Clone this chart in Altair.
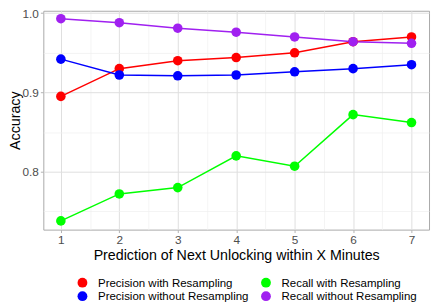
import altair as alt
import pandas as pd

minutes = [1, 2, 3, 4, 5, 6, 7]
series_names = [
    "Precision with Resampling",
    "Precision without Resampling",
    "Recall with Resampling",
    "Recall without Resampling",
]
precision_with = [0.895, 0.930, 0.940, 0.944, 0.950, 0.964, 0.970]
precision_without = [0.942, 0.922, 0.921, 0.922, 0.926, 0.930, 0.935]
recall_with = [0.738, 0.772, 0.780, 0.820, 0.807, 0.872, 0.862]
recall_without = [0.993, 0.988, 0.981, 0.976, 0.970, 0.964, 0.962]
series_colors = ["#FF0000", "#0000FF", "#00FF00", "#A020F0"]

rows = []
for name, vals in zip(series_names, [precision_with, precision_without, recall_with, recall_without]):
    for m, v in zip(minutes, vals):
        rows.append({"minutes": m, "accuracy": v, "series": name})
df = pd.DataFrame(rows)

y_ticks = [0.75, 0.8, 0.85, 0.9, 0.95, 1.0]
x_ticks = [1, 1.5, 2, 2.5, 3, 3.5, 4, 4.5, 5, 5.5, 6, 6.5, 7]

major_y = "round(datum.value*100) % 10 == 0"
major_x = "round(datum.value*10) % 10 == 0"

x_enc = alt.X(
    "minutes:Q",
    scale=alt.Scale(domain=[0.7, 7.3], nice=False, zero=False),
    axis=alt.Axis(
        values=x_ticks,
        labelExpr="round(datum.value*10) % 10 == 0 ? format(datum.value, 'd') : ''",
        title="Prediction of Next Unlocking within X Minutes",
        gridColor={"condition": {"test": major_x, "value": "#DEDEDE"}, "value": "#EFEFEF"},
        gridWidth={"condition": {"test": major_x, "value": 1}, "value": 0.7},
        tickOpacity={"condition": {"test": major_x, "value": 1}, "value": 0},
        titlePadding=3,
    ),
)
y_enc = alt.Y(
    "accuracy:Q",
    scale=alt.Scale(domain=[0.727, 1.003], nice=False, zero=False),
    axis=alt.Axis(
        values=y_ticks,
        labelExpr="round(datum.value*100) % 10 == 0 ? format(datum.value, '.1f') : ''",
        title="Accuracy",
        gridColor={"condition": {"test": major_y, "value": "#DEDEDE"}, "value": "#EFEFEF"},
        gridWidth={"condition": {"test": major_y, "value": 1}, "value": 0.7},
        tickOpacity={"condition": {"test": major_y, "value": 1}, "value": 0},
        titlePadding=0,
    ),
)
color_enc = alt.Color(
    "series:N",
    scale=alt.Scale(domain=series_names, range=series_colors),
    legend=alt.Legend(
        title=None,
        orient="none",
        direction="vertical",
        legendX=34,
        legendY=271,
        columns=2,
        symbolType="circle",
        symbolSize=100,
        symbolStrokeWidth=0,
        labelFontSize=11.7,
        labelFont="Liberation Sans",
        labelColor="#000000",
        labelOffset=10,
        columnPadding=11,
        rowPadding=1,
        padding=0,
    ),
)

base = alt.Chart(df).encode(x=x_enc, y=y_enc, color=color_enc)
lines = base.mark_line(strokeWidth=1.5)
points = base.mark_circle(size=95, opacity=1)

chart = (
    alt.layer(lines, points)
    .properties(
        width=393,
        height=223,
        autosize=alt.AutoSizeParams(type="none"),
        padding={"left": 36, "top": 0, "right": 2, "bottom": 75},
    )
    .configure_view(stroke="#A8A8A8", strokeWidth=1)
    .configure_axis(
        domain=False,
        labelFont="Liberation Sans",
        labelFontSize=12,
        labelColor="#4D4D4D",
        tickColor="#B3B3B3",
        tickSize=3,
        labelPadding=2,
        titleFont="Liberation Sans",
        titleFontSize=14.5,
        titleFontWeight="normal",
        titleColor="#000000",
    )
)

chart.save("out.html", embed_options={"renderer": "svg", "actions": False})
